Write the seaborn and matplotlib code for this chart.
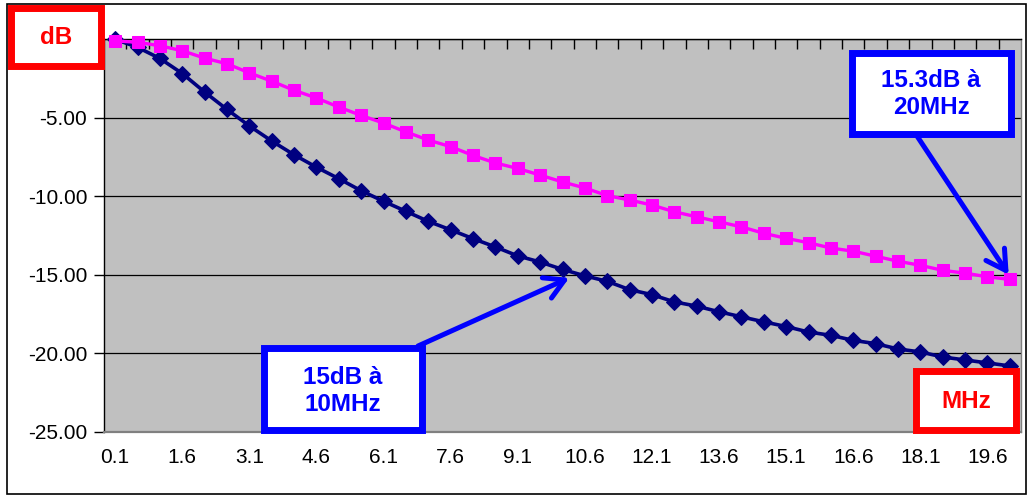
import matplotlib
matplotlib.use("Agg")
import matplotlib.pyplot as plt
from matplotlib.patches import Rectangle
import seaborn as sns
import pandas as pd

# frequency categories (MHz)
freq_mhz = [0.1, 0.6, 1.1, 1.6, 2.1, 2.6, 3.1, 3.6, 4.1, 4.6,
            5.1, 5.6, 6.1, 6.6, 7.1, 7.6, 8.1, 8.6, 9.1, 9.6,
            10.1, 10.6, 11.1, 11.6, 12.1, 12.6, 13.1, 13.6, 14.1, 14.6,
            15.1, 15.6, 16.1, 16.6, 17.1, 17.6, 18.1, 18.6, 19.1, 19.6,
            20.1]

# attenuation (dB)
loss_pink = [-0.10, -0.19, -0.41, -0.73, -1.20, -1.56, -2.14, -2.67, -3.25, -3.74,
             -4.32, -4.85, -5.34, -5.90, -6.42, -6.84, -7.40, -7.88, -8.23, -8.65,
             -9.09, -9.47, -9.96, -10.24, -10.56, -10.99, -11.31, -11.63, -11.95, -12.36,
             -12.68, -12.96, -13.30, -13.50, -13.82, -14.14, -14.40, -14.72, -14.90, -15.13,
             -15.30]
loss_navy = [0.00, -0.51, -1.22, -2.18, -3.36, -4.47, -5.52, -6.48, -7.36, -8.15,
             -8.88, -9.65, -10.32, -10.96, -11.60, -12.14, -12.70, -13.23, -13.80, -14.19,
             -14.66, -15.07, -15.42, -15.95, -16.27, -16.73, -17.00, -17.36, -17.68, -18.00,
             -18.30, -18.65, -18.86, -19.18, -19.39, -19.73, -19.92, -20.24, -20.43, -20.62,
             -20.81]

y_ticks = [-25, -20, -15, -10, -5, 0]
label_step = 3

W, H = 1029, 495


def fx(px):
    return px / W


def fy(py):
    return 1 - py / H


sns.set_theme(style="white")
plt.rcParams["font.family"] = ["Liberation Sans", "DejaVu Sans"]

fig = plt.figure(figsize=(W / 100, H / 100), dpi=100)
ax = fig.add_axes([fx(104), fy(431.7), fx(1021) - fx(104), (431.7 - 39.3) / H])
ax.set_facecolor("#c0c0c0")

pos = list(range(len(freq_mhz)))
df = pd.DataFrame({"pos": pos, "pink": loss_pink, "navy": loss_navy})

sns.lineplot(data=df, x="pos", y="navy", ax=ax, color="#000080", lw=2.6,
             marker="D", markersize=8, markeredgecolor="#000080", clip_on=False, zorder=3)
sns.lineplot(data=df, x="pos", y="pink", ax=ax, color="#ff00ff", lw=2.4,
             marker="s", markersize=9, markeredgecolor="#ff00ff", clip_on=False, zorder=4)

ax.set_xlim(-0.5, len(freq_mhz) - 0.5)
ax.set_ylim(-25, 0)
ax.set_xlabel("")
ax.set_ylabel("")

ax.set_xticks(pos[::label_step])
ax.set_xticklabels([f"{f:.1f}" for f in freq_mhz[::label_step]])
ax.set_xticks([p + 0.5 for p in pos[:-1]], minor=True)
ax.tick_params(axis="x", which="major", bottom=True, top=False, length=0, pad=12,
               labelsize=15, labelcolor="black")
ax.tick_params(axis="x", which="minor", bottom=False, top=True, direction="in",
               length=7, width=1, color="black")

# the 0.00 label sits under the "dB" box in the original, so leave it blank
ax.set_yticks(y_ticks)
ax.set_yticklabels([f"{v:.2f}" if v != 0 else "" for v in y_ticks])
ax.tick_params(axis="y", left=True, direction="out", length=7, width=1,
               color="black", pad=5, labelsize=15, labelcolor="black")

ax.yaxis.grid(True, color="black", lw=0.9)
ax.xaxis.grid(False)
ax.set_axisbelow(True)

for side, col, lw in [("top", "black", 1.0), ("left", "black", 1.0),
                      ("bottom", "#808080", 1.6), ("right", "#808080", 1.0)]:
    ax.spines[side].set_visible(True)
    ax.spines[side].set_color(col)
    ax.spines[side].set_linewidth(lw)

# outer frame
fig.add_artist(Rectangle((fx(6.5), fy(493.5)), fx(1026) - fx(6.5), fy(4) - fy(493.5),
                         transform=fig.transFigure, fill=False, edgecolor="black", lw=1.2))


def box(x0, y0, x1, y1, color, text, cx, cy):
    fig.add_artist(Rectangle((fx(x0), fy(y1)), fx(x1) - fx(x0), fy(y0) - fy(y1),
                             transform=fig.transFigure, facecolor="white",
                             edgecolor=color, lw=5, zorder=5))
    fig.text(fx(cx), fy(cy), text, color=color, fontsize=17.5, fontweight="bold",
             ha="center", va="center", linespacing=1.2, zorder=6)


# arrows
ax.annotate("", xy=(20.3, -15.2), xycoords="data",
            xytext=(fx(418), fy(346)), textcoords="figure fraction",
            arrowprops=dict(arrowstyle="->,head_length=0.7,head_width=0.4",
                            color="#0000ff", lw=3.6, mutation_scale=20,
                            shrinkA=0, shrinkB=0),
            annotation_clip=False, zorder=5)
ax.annotate("", xy=(39.95, -15.0), xycoords="data",
            xytext=(fx(917), fy(136)), textcoords="figure fraction",
            arrowprops=dict(arrowstyle="->,head_length=0.7,head_width=0.4",
                            color="#0000ff", lw=3.6, mutation_scale=20,
                            shrinkA=0, shrinkB=0),
            annotation_clip=False, zorder=5)

box(10.5, 7.5, 100.5, 65.5, "#ff0000", "dB", 56, 37)
box(915.5, 371.5, 1015.5, 429.5, "#ff0000", "MHz", 966, 401)
box(851.5, 52.5, 1010.5, 133.5, "#0000ff", "15.3dB à\n20MHz", 931, 94)
box(263.5, 347.5, 421.5, 429.5, "#0000ff", "15dB à\n10MHz", 343, 391)

fig.savefig("out.png", dpi=100)
